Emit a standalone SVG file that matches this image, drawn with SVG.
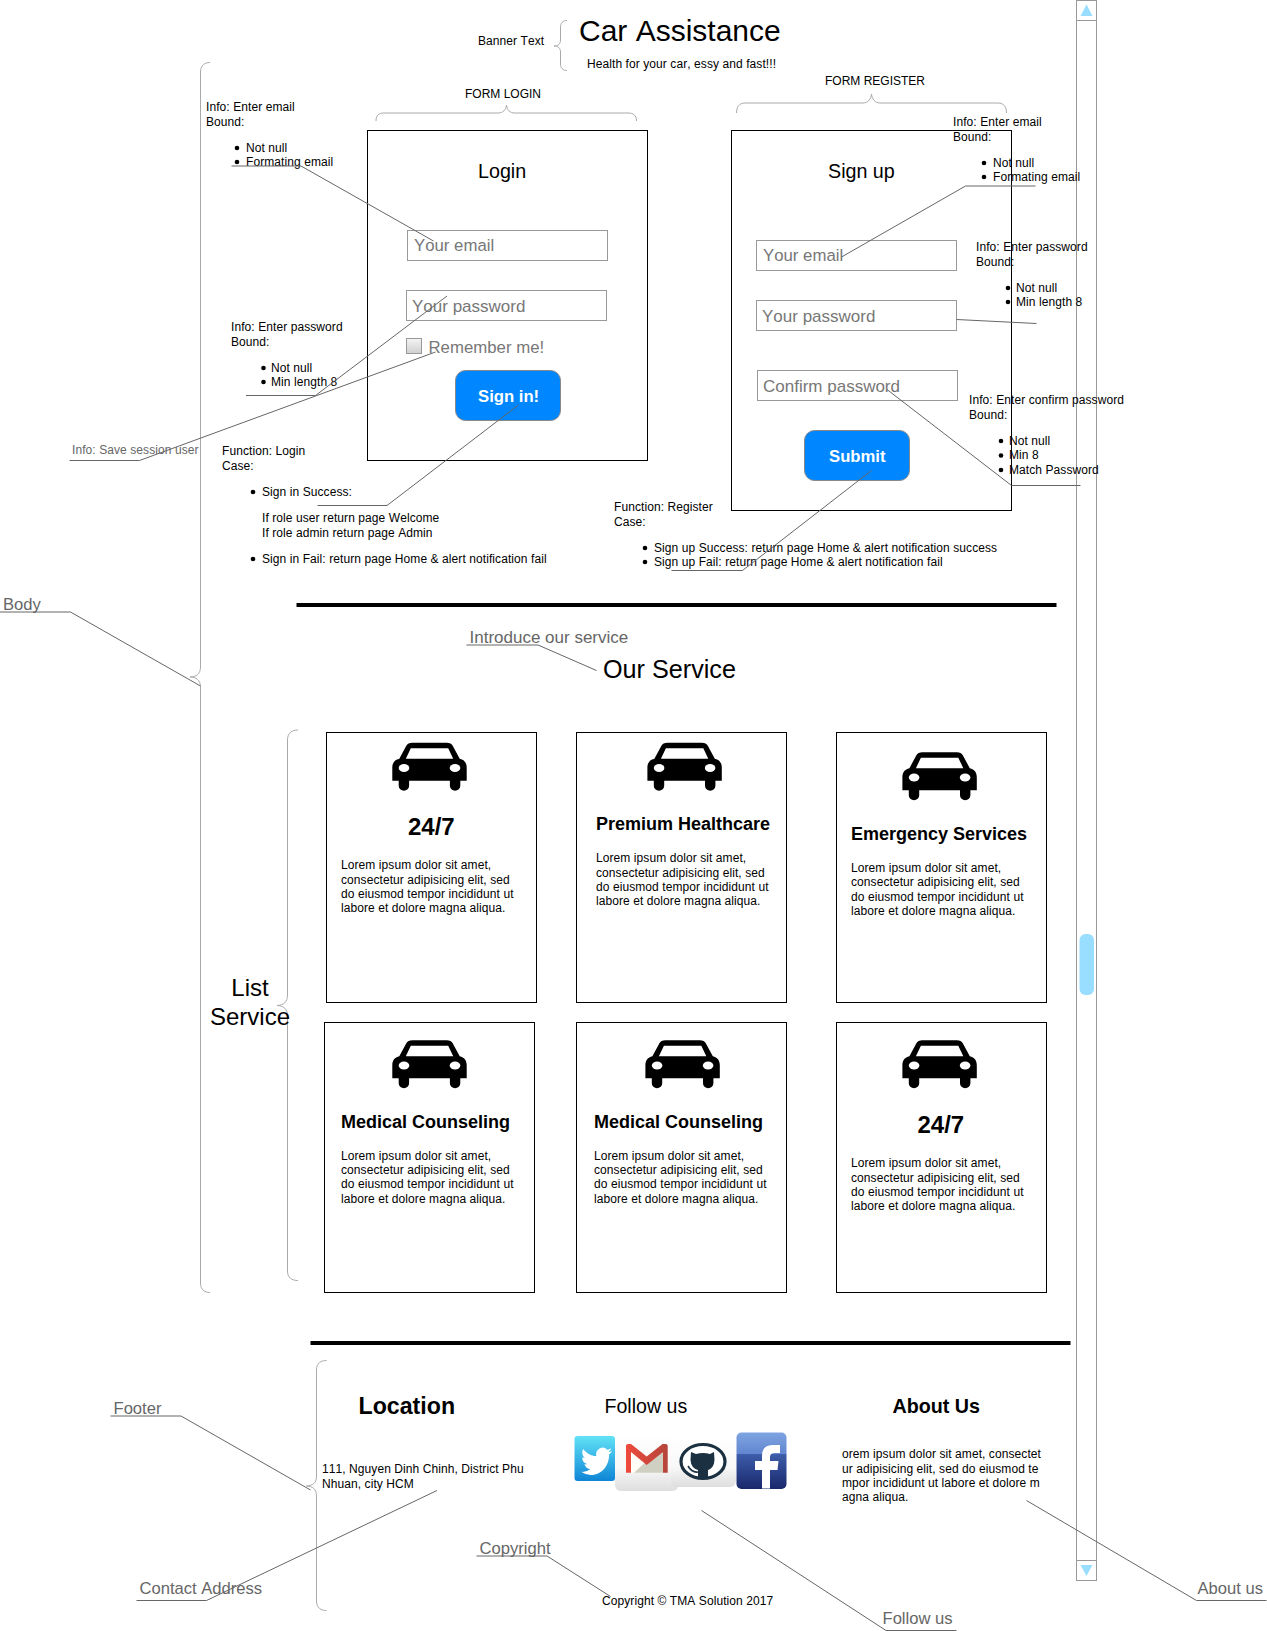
<svg xmlns="http://www.w3.org/2000/svg" width="1267" height="1631" viewBox="0 0 1267 1631">
<style>
text{font-family:"Liberation Sans",Arial,sans-serif;fill:#000;font-size:12px;font-kerning:none;text-rendering:optimizeSpeed;letter-spacing:.08px}
.label{fill:#666;font-size:16.6px;letter-spacing:0}
.ph{fill:#777;font-size:16.8px;letter-spacing:0}
.ph2{fill:#777;font-size:17px;letter-spacing:0}
.t20{font-size:19.7px;letter-spacing:0}
.bold{font-weight:bold;letter-spacing:0}
.big{letter-spacing:0}
.btn{fill:#fff;font-size:16.7px;font-weight:bold;letter-spacing:0}
.box{fill:none;stroke:#000;stroke-width:1}
.input{fill:#fff;stroke:#999;stroke-width:1}
.button{fill:#0087ff;stroke:#888;stroke-width:1}
.brace{fill:none;stroke:#aaa;stroke-width:1}
.conn{fill:none;stroke:#666;stroke-width:1}
.bar{stroke:#000;stroke-width:4}
</style>
<defs>
<symbol id="car" viewBox="0 0 74.4 48" width="74.4" height="48" overflow="visible">
<path fill-rule="evenodd" d="M7,16 L14,3 C15,1 17,0 20,0 H54.4 C57.4,0 59.4,1 60.4,3 L67.4,16 C72,17 74.4,20 74.4,25 V38 H68 V43 A5.2,5 0 0 1 57.6,43 V38 H16.8 V43 A5.2,5 0 0 1 6.4,43 V38 H0 V25 C0,20 2.4,17 7,16 Z M13.5,16 H60.9 L55.9,5.5 H18.5 Z"/>
<ellipse cx="11.7" cy="25.3" rx="5.3" ry="4" fill="#fff"/>
<ellipse cx="62.7" cy="25.3" rx="5.3" ry="4" fill="#fff"/>
</symbol>
<linearGradient id="cb" x1="0" y1="0" x2="0" y2="1"><stop offset="0" stop-color="#f4f4f4"/><stop offset="1" stop-color="#cfcfcf"/></linearGradient>
<linearGradient id="tw" x1="0" y1="0" x2="0" y2="1"><stop offset="0" stop-color="#62e2f6"/><stop offset="1" stop-color="#0f85d6"/></linearGradient>
<linearGradient id="lg" x1="0" y1="0" x2="0" y2="1"><stop offset="0" stop-color="#fff"/><stop offset="0.6" stop-color="#f8f8f8"/><stop offset="1" stop-color="#dedede"/></linearGradient>
<linearGradient id="fb" x1="0" y1="0" x2="0" y2="1"><stop offset="0" stop-color="#7fa4e2"/><stop offset="0.38" stop-color="#6286cf"/><stop offset="0.39" stop-color="#3d5ca9"/><stop offset="1" stop-color="#19286b"/></linearGradient>
<linearGradient id="gm" x1="0" y1="0" x2="1" y2="0"><stop offset="0" stop-color="#ee4a3c"/><stop offset="1" stop-color="#b5453b"/></linearGradient>
</defs>
<rect width="1267" height="1631" fill="#fff"/>

<g id="scrollbar">
<rect x="1076.5" y="0.5" width="20" height="1580" fill="none" stroke="#999"/>
<path d="M1076.5,20.5H1096.5M1076.5,1560.5H1096.5" fill="none" stroke="#999"/>
<path d="M1086.5,4.5L1092.5,16H1080.5Z" fill="#99ddff"/>
<path d="M1086.5,1576L1092.5,1565H1080.5Z" fill="#99ddff"/>
<rect x="1079.5" y="934" width="14.5" height="61" rx="6" fill="#99ddff"/>
</g>

<g id="banner">
<text x="478" y="45">Banner Text</text>
<path class="brace" d="M567,20.5C563,20.5 560.5,23 560.5,27V40C560.5,44 558,46 554,46C558,46 560.5,48 560.5,52V64C560.5,68 563,70.5 567,70.5"/>
<text class="big" x="579" y="41" style="font-size:30px">Car Assistance</text>
<text x="587" y="67.5">Health for your car, essy and fast!!!</text>
</g>

<g id="body-brace">
<path class="brace" d="M210,62.5C205,62.5 200.5,65 200.5,72V667C200.5,674 196,677 190,677C196,677 200.5,680 200.5,687V1283C200.5,1290 205,1292.5 210,1292.5"/>
</g>

<g id="form-login">
<text class="big" x="465" y="98">FORM LOGIN</text>
<path class="brace" d="M376,121C376,115 379,113 384,113H498C503,113 506,110 506.5,105C507,110 510,113 515,113H628C633,113 636.5,115 636.5,121"/>
<rect class="box" x="367.5" y="130.5" width="280" height="330"/>
<text class="t20" x="478" y="178">Login</text>
<rect class="input" x="407.5" y="230.5" width="200" height="30"/>
<text class="ph" x="414" y="251">Your email</text>
<rect class="input" x="406.5" y="290.5" width="200" height="30"/>
<text class="ph2" x="412" y="312">Your password</text>
<rect x="406.5" y="338.5" width="15" height="15" fill="url(#cb)" stroke="#999"/>
<text class="ph" x="428.5" y="353">Remember me!</text>
<rect class="button" x="455.5" y="370.5" width="105" height="50" rx="10"/>
<text class="btn" x="478" y="402">Sign in!</text>
</g>

<g id="form-register">
<text class="big" x="825" y="85">FORM REGISTER</text>
<path class="brace" d="M736.5,113C736.5,107 739,103 745,103H863C868,103 871,99 871.5,94C872,99 875,103 880,103H998C1004,103 1006.5,107 1006.5,113"/>
<rect class="box" x="731.5" y="130.5" width="280" height="380"/>
<text class="t20" x="828" y="178">Sign up</text>
<rect class="input" x="756.5" y="240.5" width="200" height="30"/>
<text class="ph" x="763" y="261">Your email</text>
<rect class="input" x="756.5" y="300.5" width="200" height="30"/>
<text class="ph2" x="762" y="322">Your password</text>
<rect class="input" x="757.5" y="370.5" width="200" height="30"/>
<text class="ph2" x="763" y="392">Confirm password</text>
<rect class="button" x="804.5" y="430.5" width="105" height="50" rx="10"/>
<text class="btn" x="829" y="462">Submit</text>
</g>

<g id="info-login-email">
<text x="206" y="111">Info: Enter email</text>
<text x="206" y="126">Bound:</text>
<circle cx="237" cy="148" r="2.3"/><text x="246" y="152">Not null</text>
<circle cx="237" cy="162" r="2.3"/><text x="246" y="166">Formating email</text>
</g>
<g id="info-login-password">
<text x="231" y="331">Info: Enter password</text>
<text x="231" y="346">Bound:</text>
<circle cx="263.5" cy="368" r="2.3"/><text x="271" y="372">Not null</text>
<circle cx="263.5" cy="382" r="2.3"/><text x="271" y="386">Min length 8</text>
</g>
<g id="info-save-session">
<text x="72" y="454" style="fill:#666">Info: Save session user</text>
</g>
<g id="function-login">
<text x="222" y="455">Function: Login</text>
<text x="222" y="470">Case:</text>
<circle cx="253" cy="492" r="2.3"/><text x="262" y="496">Sign in Success:</text>
<text x="262" y="522">If role user return page Welcome</text>
<text x="262" y="537">If role admin return page Admin</text>
<circle cx="253" cy="559" r="2.3"/><text x="262" y="563">Sign in Fail: return page Home &amp; alert notification fail</text>
</g>
<g id="function-register">
<text x="614" y="511">Function: Register</text>
<text x="614" y="526">Case:</text>
<circle cx="645" cy="548" r="2.3"/><text x="654" y="552">Sign up Success: return page Home &amp; alert notification success</text>
<circle cx="645" cy="562" r="2.3"/><text x="654" y="566">Sign up Fail: return page Home &amp; alert notification fail</text>
</g>
<g id="info-register-email">
<text x="953" y="126">Info: Enter email</text>
<text x="953" y="141">Bound:</text>
<circle cx="984" cy="163" r="2.3"/><text x="993" y="167">Not null</text>
<circle cx="984" cy="177" r="2.3"/><text x="993" y="181">Formating email</text>
</g>
<g id="info-register-password">
<text x="976" y="251">Info: Enter password</text>
<text x="976" y="266">Bound:</text>
<circle cx="1008" cy="288" r="2.3"/><text x="1016" y="292">Not null</text>
<circle cx="1008" cy="302" r="2.3"/><text x="1016" y="306">Min length 8</text>
</g>
<g id="info-register-confirm">
<text x="969" y="404">Info: Enter confirm password</text>
<text x="969" y="419">Bound:</text>
<circle cx="1001" cy="441" r="2.3"/><text x="1009" y="445">Not null</text>
<circle cx="1001" cy="455.5" r="2.3"/><text x="1009" y="459">Min 8</text>
<circle cx="1001" cy="470" r="2.3"/><text x="1009" y="474">Match Password</text>
</g>

<g id="divider-top"><line class="bar" x1="296.5" y1="605" x2="1056.5" y2="605"/></g>

<g id="service-header">
<text class="label" x="469.5" y="643" style="font-size:17px">Introduce our service</text>
<text class="big" x="603" y="678" style="font-size:25.2px">Our Service</text>
</g>

<g id="list-service">
<path class="brace" d="M298,730C292,730 287.5,733 287.5,740V995C287.5,1002 284,1005 277,1005.5C284,1006 287.5,1009 287.5,1016V1271C287.5,1278 292,1280.5 298,1280.5"/>
<text class="big" x="250" y="996" text-anchor="middle" style="font-size:24px">List</text>
<text class="big" x="250" y="1025" text-anchor="middle" style="font-size:24px">Service</text>
</g>

<g id="card-1">
<rect class="box" x="326.5" y="732.5" width="210" height="270"/>
<use href="#car" x="392.3" y="742.7"/>
<text class="bold" x="408" y="835" style="font-size:24px">24/7</text>
<text x="341" y="869">Lorem ipsum dolor sit amet,</text><text x="341" y="883.5">consectetur adipisicing elit, sed</text><text x="341" y="898">do eiusmod tempor incididunt ut</text><text x="341" y="912">labore et dolore magna aliqua.</text>
</g>
<g id="card-2">
<rect class="box" x="576.5" y="732.5" width="210" height="270"/>
<use href="#car" x="647.4" y="742.7"/>
<text class="bold" x="596" y="830" style="font-size:18px">Premium Healthcare</text>
<text x="596" y="862">Lorem ipsum dolor sit amet,</text><text x="596" y="876.5">consectetur adipisicing elit, sed</text><text x="596" y="891">do eiusmod tempor incididunt ut</text><text x="596" y="905">labore et dolore magna aliqua.</text>
</g>
<g id="card-3">
<rect class="box" x="836.5" y="732.5" width="210" height="270"/>
<use href="#car" x="902.4" y="752.2"/>
<text class="bold" x="851" y="839.5" style="font-size:18px">Emergency Services</text>
<text x="851" y="871.5">Lorem ipsum dolor sit amet,</text><text x="851" y="886">consectetur adipisicing elit, sed</text><text x="851" y="900.5">do eiusmod tempor incididunt ut</text><text x="851" y="914.5">labore et dolore magna aliqua.</text>
</g>
<g id="card-4">
<rect class="box" x="324.5" y="1022.5" width="210" height="270"/>
<use href="#car" x="392.3" y="1040.2"/>
<text class="bold" x="341" y="1127.5" style="font-size:18px">Medical Counseling</text>
<text x="341" y="1159.5">Lorem ipsum dolor sit amet,</text><text x="341" y="1174">consectetur adipisicing elit, sed</text><text x="341" y="1188">do eiusmod tempor incididunt ut</text><text x="341" y="1202.5">labore et dolore magna aliqua.</text>
</g>
<g id="card-5">
<rect class="box" x="576.5" y="1022.5" width="210" height="270"/>
<use href="#car" x="645.4" y="1040.2"/>
<text class="bold" x="594" y="1127.5" style="font-size:18px">Medical Counseling</text>
<text x="594" y="1159.5">Lorem ipsum dolor sit amet,</text><text x="594" y="1174">consectetur adipisicing elit, sed</text><text x="594" y="1188">do eiusmod tempor incididunt ut</text><text x="594" y="1202.5">labore et dolore magna aliqua.</text>
</g>
<g id="card-6">
<rect class="box" x="836.5" y="1022.5" width="210" height="270"/>
<use href="#car" x="902.4" y="1040.2"/>
<text class="bold" x="917.5" y="1132.5" style="font-size:24px">24/7</text>
<text x="851" y="1167">Lorem ipsum dolor sit amet,</text><text x="851" y="1181.5">consectetur adipisicing elit, sed</text><text x="851" y="1196">do eiusmod tempor incididunt ut</text><text x="851" y="1210">labore et dolore magna aliqua.</text>
</g>

<g id="divider-bottom"><line class="bar" x1="310.5" y1="1343" x2="1070.5" y2="1343"/></g>

<g id="footer-brace">
<path class="brace" d="M326.5,1360.5C321,1360.5 316.5,1363 316.5,1370V1476C316.5,1483 313,1485.5 306.5,1486C313,1486.5 316.5,1489 316.5,1496V1601C316.5,1608 321,1610.5 326.5,1610.5"/>
</g>
<g id="location">
<text class="bold" x="358.5" y="1413.5" style="font-size:23.2px">Location</text>
<text x="322" y="1473">111, Nguyen Dinh Chinh, District Phu</text>
<text x="322" y="1488">Nhuan, city HCM</text>
</g>
<g id="follow-us">
<text class="t20" x="604.5" y="1412.5" style="font-size:19.6px">Follow us</text>
<rect x="615" y="1433" width="63.5" height="58" rx="6" fill="url(#lg)"/>
<rect x="671" y="1437" width="65" height="50" rx="6" fill="url(#lg)"/>
<rect x="574.5" y="1436" width="40.5" height="45" rx="3" fill="url(#tw)"/>
<path fill="#fff" transform="translate(581,1444.5) scale(1.3,1.4)" d="M23.953 4.57a10 10 0 01-2.825.775 4.958 4.958 0 002.163-2.723c-.951.555-2.005.959-3.127 1.184a4.92 4.92 0 00-8.384 4.482C7.69 8.095 4.067 6.13 1.64 3.162a4.822 4.822 0 00-.666 2.475c0 1.71.87 3.213 2.188 4.096a4.904 4.904 0 01-2.228-.616v.06a4.923 4.923 0 003.946 4.827 4.996 4.996 0 01-2.212.085 4.936 4.936 0 004.604 3.417 9.867 9.867 0 01-6.102 2.105c-.39 0-.779-.023-1.17-.067a13.995 13.995 0 007.557 2.209c9.053 0 13.998-7.496 13.998-13.985 0-.21 0-.42-.015-.63A9.935 9.935 0 0024 4.59z"/>
<path d="M631,1446L646.7,1461L663,1446V1472.7H631Z" fill="#fffdf6"/>
<path d="M646.7,1461L663,1448V1472.7H634Z" fill="#cfcfc2"/>
<path fill="url(#gm)" d="M626,1446Q626,1444 628,1444H631L646.7,1456.5L662.5,1444H665.7Q667.7,1444 667.7,1446V1472.7H663V1452L646.7,1465L631,1452V1472.7H626Z"/>
<ellipse cx="703" cy="1461.5" rx="22" ry="17" fill="#fff" stroke="#1b3040" stroke-width="3.2"/>
<path fill="#1b3040" d="M691,1452L696,1454Q703,1452 710,1454L714,1452L714.5,1460Q714,1468 708,1470V1478H698V1470Q691,1468 690.5,1460Z"/>
<path fill="none" stroke="#1b3040" stroke-width="1.6" d="M688,1466Q692,1473 698,1472"/>
<rect x="736.5" y="1432.5" width="50" height="56.5" rx="5" fill="url(#fb)"/>
<path fill="#fff" d="M762,1488.5V1470H755V1461H762V1456Q762,1445 773,1445H780V1453H775Q770,1453 770,1457V1461H778.5L777.5,1470H770V1488.5Z"/>
</g>
<g id="about-us">
<text class="bold t20" x="892.5" y="1412.5">About Us</text>
<text x="842" y="1458">orem ipsum dolor sit amet, consectet</text>
<text x="842" y="1473">ur adipisicing elit, sed do eiusmod te</text>
<text x="842" y="1487">mpor incididunt ut labore et dolore m</text>
<text x="842" y="1501">agna aliqua.</text>
</g>
<g id="copyright"><text x="602" y="1605">Copyright © TMA Solution 2017</text></g>

<g id="labels">
<text class="label" x="3" y="610">Body</text>
<text class="label" x="113.5" y="1414">Footer</text>
<text class="label" x="139.5" y="1594">Contact Address</text>
<text class="label" x="479.5" y="1554">Copyright</text>
<text class="label" x="882.5" y="1624">Follow us</text>
<text class="label" x="1197.5" y="1594">About us</text>
</g>

<g id="connectors">
<path class="conn" d="M0,612H70.5L200.5,686"/>
<path class="conn" d="M231.5,166H301L433.5,241"/>
<path class="conn" d="M246,395.5H315.5L447,296"/>
<path class="conn" d="M69.5,460.5H139.5L435.5,352"/>
<path class="conn" d="M317.5,505.5H387L518.5,405"/>
<path class="conn" d="M1035.5,186H965.5L841.5,257"/>
<path class="conn" d="M1036.5,323.5L956.5,319.5"/>
<path class="conn" d="M1080.5,485.5H1011.5L887,389.5"/>
<path class="conn" d="M671.5,570.5H742.5L871.5,470.5"/>
<path class="conn" d="M466.5,645H538L596.5,670.5"/>
<path class="conn" d="M110.5,1416H181L310.5,1490"/>
<path class="conn" d="M136.5,1600.5H206.5L437,1490.5"/>
<path class="conn" d="M476.5,1556H547L610.5,1596.5"/>
<path class="conn" d="M956.5,1630.5H886L701.5,1510.5"/>
<path class="conn" d="M1266.5,1600.5H1196.5L1026.5,1500.5"/>
</g>
</svg>
